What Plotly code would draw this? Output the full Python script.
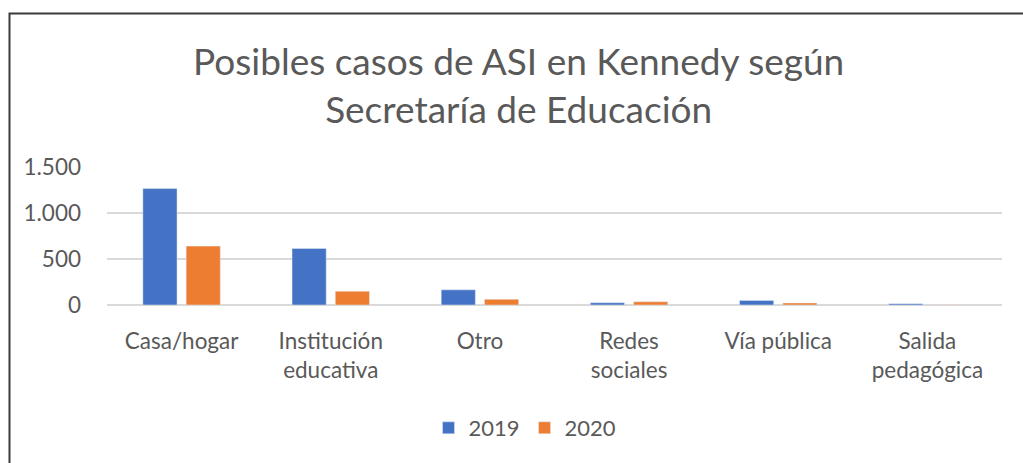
import plotly.graph_objects as go

categories = ["Casa/hogar", "Institución<br>educativa", "Otro", "Redes<br>sociales", "Vía pública", "Salida<br>pedagógica"]
values_2019 = [1265, 615, 165, 25, 50, 14]
values_2020 = [640, 150, 62, 35, 22, 2]
y_ticks = [0, 500, 1000, 1500]
y_tick_labels = ["0", "500", "1.000", "1.500"]

W, H = 1023, 463
L, R, T, B = 107, 21, 167, 158
pw, ph = W - L - R, H - T - B

def px(x):
    return (x - L) / pw

def py(y):
    return (H - B - y) / ph

font = "Lato"
grey = "#595959"

fig = go.Figure()
fig.add_trace(go.Bar(name="2019", x=categories, y=values_2019, marker_color="#4472C4"))
fig.add_trace(go.Bar(name="2020", x=categories, y=values_2020, marker_color="#ED7D31"))

fig.update_layout(
    width=W, height=H,
    margin=dict(l=L, r=R, t=T, b=B),
    paper_bgcolor="white", plot_bgcolor="white",
    barmode="group", bargap=0.42, bargroupgap=0.21,
    title=dict(text="Posibles casos de ASI en Kennedy según<br>Secretaría de Educación",
               x=0.507, xref="container", xanchor="center",
               y=1 - 75 / H, yref="container", yanchor="middle",
               font=dict(family=font, size=37, color=grey)),
    font=dict(family=font, color=grey),
    legend=dict(orientation="h", x=px(525), xanchor="center", y=py(428), yanchor="middle",
                font=dict(size=22, color=grey), itemwidth=30, traceorder="normal"),
    showlegend=True,
    shapes=[dict(type="rect", xref="paper", yref="paper",
                 x0=px(9.5), x1=px(1040), y0=py(480), y1=py(13.5),
                 line=dict(color="#3a3a3a", width=2), fillcolor="rgba(0,0,0,0)")],
)
fig.update_xaxes(showgrid=False, showline=False, ticks="", tickfont=dict(size=22.5, color=grey),
                 ticklabelstandoff=20)
fig.update_yaxes(range=[0, 1500], tickvals=y_ticks, ticktext=y_tick_labels,
                 showgrid=True, gridcolor="#D9D9D9", gridwidth=1.5,
                 zeroline=True, zerolinecolor="#D9D9D9", zerolinewidth=1.5,
                 showline=False, ticks="", tickfont=dict(size=22.5, color=grey),
                 ticklabelstandoff=25)

fig.write_html("out.html")
